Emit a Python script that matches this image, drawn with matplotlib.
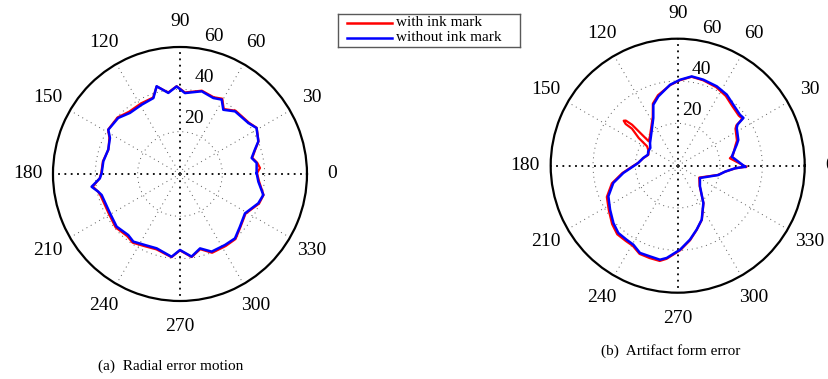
import numpy as np
import matplotlib.pyplot as plt

plt.rcParams['font.family'] = ['Liberation Serif', 'DejaVu Serif']

#%% Data (angle in degrees, radius in um)
# (a) radial error motion
a_ang_blue = [0.7, 8.2, 12.6, 18.0, 22.6, 31.0, 36.7, 48.7, 56.0, 60.7, 66.3, 75.3,
              86.5, 92.2, 98.2, 104.9, 109.3, 118.9, 129.3, 137.8, 148.3, 152.8,
              161.2, 170.6, 179.3, 183.1, 188.2, 192.2, 195.0, 209.3, 219.7, 229.7,
              235.4, 243.8, 252.6, 264.2, 270.0, 278.0, 285.1, 292.2, 302.4, 310.5,
              318.7, 328.8, 339.5, 345.9, 354.4, 360.7]
a_r_blue = [36.2, 36.6, 34.7, 37.2, 40.1, 42.2, 40.3, 39.4, 36.6, 40.3, 39.2, 40.4,
            38.3, 41.4, 38.7, 42.9, 38.0, 37.4, 37.3, 39.4, 39.8, 37.2,
            35.8, 36.7, 37.0, 37.9, 42.2, 39.5, 38.3, 37.9, 38.9, 37.8,
            38.8, 37.4, 36.8, 39.3, 35.9, 39.4, 36.4, 39.6, 39.7, 40.0,
            37.7, 35.9, 39.5, 40.6, 37.2, 36.2]
a_ang_red = [0.7, 4.3, 8.2, 12.6, 18.0, 22.6, 31.0, 36.7, 48.7, 56.0, 60.7, 66.3, 75.3,
             86.5, 92.2, 98.2, 104.9, 109.3, 118.9, 129.3, 137.8, 148.3, 152.8,
             161.2, 170.6, 179.3, 183.1, 188.2, 192.2, 195.0, 209.3, 219.7, 229.7,
             235.4, 243.8, 252.6, 264.2, 270.0, 278.0, 285.1, 292.2, 302.4, 310.5,
             318.7, 328.8, 339.5, 345.9, 354.4, 360.7]
a_r_red = [36.4, 37.9, 36.9, 35.0, 37.4, 40.2, 42.3, 40.6, 39.8, 37.0, 40.8, 39.6, 40.7,
           38.6, 41.5, 38.9, 42.8, 38.3, 38.1, 38.0, 39.8, 39.9, 37.5,
           35.7, 36.9, 37.2, 38.0, 41.6, 39.6, 38.9, 38.5, 39.5, 38.5,
           39.4, 38.0, 37.3, 39.5, 36.1, 39.6, 36.8, 40.2, 40.3, 40.4,
           38.0, 36.2, 39.9, 40.7, 37.6, 36.4]

# (b) artifact form error
b_ang_blue = [-0.9, 9.5, 19.6, 23.0, 32.6, 34.5, 36.0, 39.3, 47.7, 55.4, 63.8, 73.4,
              81.1, 88.5, 95.4, 105.6, 111.8, 117.1, 133.0, 140.7, 147.1, 153.9,
              159.7, 167.4, 176.0, 180.8, 187.6, 195.0, 203.8, 213.0, 221.7, 228.6,
              235.4, 240.7, 246.6, 253.0, 259.3, 263.2, 271.6, 279.4, 286.5, 294.0,
              304.5, 317.3, 331.1, 347.1, 352.8, 357.4, 359.1]
b_r_blue = [31.8, 25.9, 29.6, 31.1, 33.1, 34.3, 38.4, 38.0, 39.0, 40.8, 41.8, 42.4,
            42.7, 40.6, 38.4, 34.0, 31.0, 25.3, 18.6, 16.9, 15.4, 15.5,
            15.0, 16.7, 18.7, 21.0, 25.9, 31.5, 35.8, 38.1, 40.7, 42.4,
            42.5, 42.8, 44.9, 44.8, 45.2, 43.9, 39.7, 35.4, 31.5, 27.9,
            21.4, 14.3, 12.0, 19.7, 22.5, 27.1, 31.8]
# red has the ink-mark spike near 140 deg
b_ang_red = [-0.9, 8.1, 10.5, 19.6, 23.0, 32.6, 34.5, 36.0, 39.3, 47.7, 55.4, 63.8, 73.4,
             81.1, 88.5, 95.4, 105.6, 111.8, 117.1, 133.0, 139.9, 139.2, 138.1, 139.0,
             140.2, 141.3, 141.0, 144.6, 147.7, 153.9, 159.7, 167.4, 176.0, 180.8,
             187.6, 195.0, 203.8, 213.0, 221.7, 228.6, 235.4, 240.7, 246.6, 253.0,
             259.3, 263.2, 271.6, 279.4, 286.5, 294.0, 304.5, 317.3, 331.1, 347.1,
             352.8, 357.4, 359.1]
b_r_red = [32.3, 24.9, 26.5, 29.0, 30.4, 32.4, 33.6, 37.8, 37.3, 38.2, 40.0, 41.3, 42.1,
           42.5, 40.4, 38.2, 34.6, 31.6, 25.9, 19.2, 17.9, 21.2, 29.0, 32.5,
           33.2, 31.5, 27.8, 22.6, 17.1, 15.2, 14.8, 16.6, 18.8, 21.3,
           26.4, 32.2, 36.6, 38.8, 41.5, 43.2, 43.2, 43.4, 45.4, 45.6,
           45.8, 44.3, 40.0, 35.7, 31.6, 28.0, 21.5, 14.1, 11.6, 19.5,
           22.6, 27.3, 32.3]

theta_ticks = list(range(0, 360, 30))
r_ticks = [20, 40, 60]
legend_labels = ['with ink mark', 'without ink mark']


#%% helpers
def matlab_polar(ax):
    """MATLAB-like polar frame: dotted spokes and rings, labels placed by hand"""
    ax.set_ylim(0, 60)
    ax.set_xticks(np.deg2rad(theta_ticks))
    ax.set_yticks(r_ticks[:-1])
    ax.tick_params(labelbottom=False, labelleft=False, length=0)
    ax.grid(True, color='0.35', ls=(0, (1, 4)), lw=0.7)
    for k, gl in enumerate(ax.xaxis.get_gridlines()):
        if k % 3 == 0:  # 0/90/180/270 axes are heavier
            gl.set_color('k')
            gl.set_linewidth(1.3)
            gl.set_linestyle((0, (1, 2.5)))
    ax.spines['polar'].set_linewidth(1.6)
    for a in theta_ticks:
        ax.text(np.deg2rad(a), 72, str(a), ha='center', va='center', fontsize=14)
    for rr in r_ticks:
        ax.text(np.deg2rad(76), rr + 7, str(rr), ha='center', va='center', fontsize=14)


#%% figure
fig = plt.figure(figsize=(8.29, 3.79), dpi=100)
axa = fig.add_axes([0.0639, 0.2058, 0.3064, 0.6702], projection='polar')
axb = fig.add_axes([0.6643, 0.2277, 0.3064, 0.6702], projection='polar')

for ax, (ar, rr), (ab, rb) in [(axa, (a_ang_red, a_r_red), (a_ang_blue, a_r_blue)),
                                (axb, (b_ang_red, b_r_red), (b_ang_blue, b_r_blue))]:
    matlab_polar(ax)
    ax.plot(np.deg2rad(ar), rr, c='r', lw=1.6, zorder=3)
    ax.plot(np.deg2rad(ab), rb, c='b', lw=1.8, zorder=4)

fig.text(171/829, 1 - 366/379, '(a)  Radial error motion', ha='center', va='center', fontsize=11)
fig.text(671/829, 1 - 351/379, '(b)  Artifact form error', ha='center', va='center', fontsize=11)

# legend box (MATLAB style, wider than its content)
lax = fig.add_axes([338/829, 1 - 47/379, 182/829, 33/379])
lax.set_xlim(0, 182)
lax.set_ylim(0, 33)
lax.set_xticks([])
lax.set_yticks([])
for s in lax.spines.values():
    s.set_color('0.35')
    s.set_linewidth(1.0)
lax.plot([9, 54], [24, 24], c='r', lw=1.8)
lax.plot([9, 54], [9, 9], c='b', lw=1.8)
lax.text(58, 24.5, legend_labels[0], va='center', fontsize=11)
lax.text(58, 9.5, legend_labels[1], va='center', fontsize=11)

fig.savefig('out.png', dpi=100)
